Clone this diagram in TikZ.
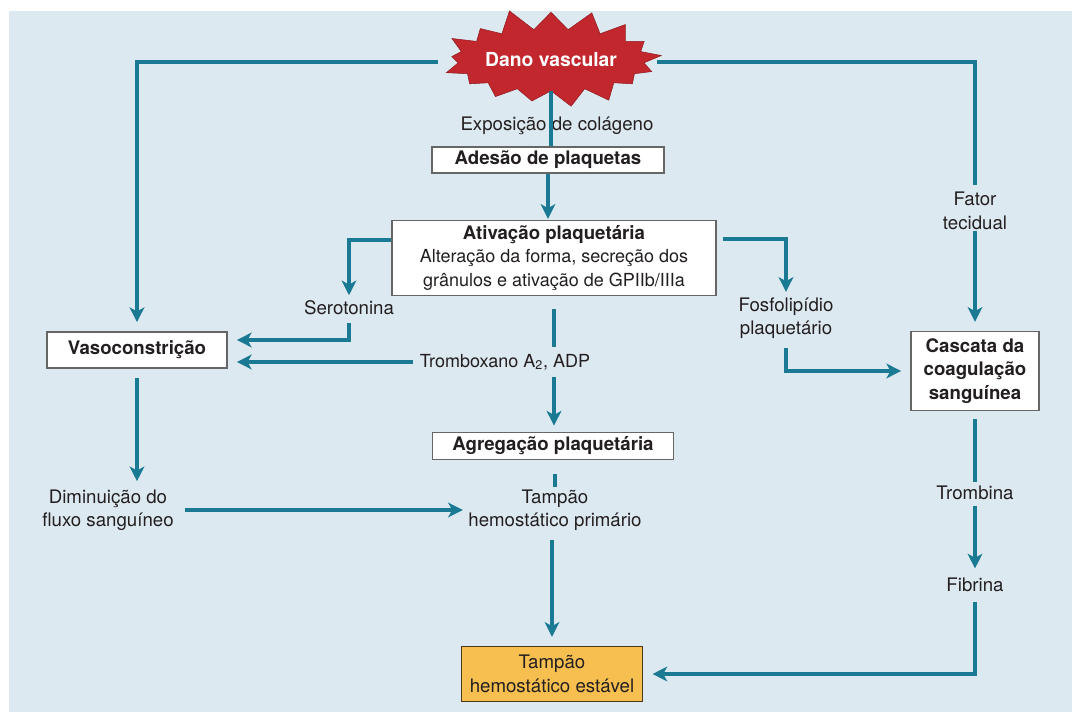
\documentclass[tikz,border=0pt]{standalone}
\usepackage{fontspec}
\setmainfont{TeX Gyre Heros}
\usetikzlibrary{arrows.meta,shapes.symbols}

\definecolor{fundo}{HTML}{DDE9F0}
\definecolor{seta}{HTML}{1B7A93}
\definecolor{vermelho}{HTML}{C1272D}
\definecolor{laranja}{HTML}{F6BF4F}
\definecolor{texto}{HTML}{231F20}

\newcommand{\fonte}{\fontsize{14}{17.5}\selectfont}
\newcommand{\fontemenor}{\fontsize{13.5}{16.5}\selectfont}

\tikzset{
  caixa/.style={draw=black!60, line width=0.8pt, fill=white, text=texto,
    align=center, inner xsep=5pt, inner ysep=3pt, font=\fonte},
  negrito/.style={caixa, font=\fonte\bfseries},
  rotulo/.style={align=center, text=texto, inner sep=1pt, font=\fonte},
  linha/.style={draw=seta, line width=2.3pt},
  fluxo/.style={linha, -{Stealth[length=11pt,width=11pt,inset=3pt]}},
}

\begin{document}
\begin{tikzpicture}[x=0.75pt, y=-0.75pt]
  % 画布:左上留白
  \useasboundingbox (0,0) rectangle (1072,712);
  \fill[fundo] (9,11) rectangle (1072,712);

  % 起点
  \node[starburst, starburst points=17, starburst point height=17pt,
    random starburst=11, fill=vermelho, draw=vermelho!75!black,
    text=white, font=\fontsize{14.5}{16}\selectfont\bfseries,
    inner xsep=0pt, inner ysep=11pt] (dano) at (551,60) {Dano vascular};
  \coordinate (esq) at (438,62);
  \coordinate (dir) at (657,62);

  % 方框
  \node[negrito, minimum width=174pt, minimum height=19.5pt] (adesao) at (548,160) {Adesão de plaquetas};
  \node[caixa, inner xsep=3pt, minimum width=243pt, minimum height=56pt] (ativ) at (554,258)
    {\textbf{Ativação plaquetária}\\\fontemenor Alteração da forma, secreção dos\\\fontemenor grânulos e ativação de GPIIb/IIIa};
  \node[negrito, minimum width=135pt, minimum height=27pt] (vaso) at (137,350) {Vasoconstrição};
  \node[negrito, minimum width=181pt, minimum height=17pt] (agreg) at (553,446) {Agregação plaquetária};
  \node[negrito, minimum width=96pt, minimum height=59pt] (cascata) at (975,371)
    {Cascata da\\coagulação\\sanguínea};
  \node[caixa, fill=laranja, draw=black!70!laranja, minimum width=136pt, minimum height=41pt] (estavel) at (552,674)
    {Tampão\\hemostático estável};

  % 文字标签
  \node[rotulo] (expo) at (557,126) {Exposição de colágeno};
  \node[rotulo] (sero) at (349,308) {Serotonina};
  \node[rotulo, font=\fontemenor] (tromb) at (505,362) {Tromboxano A\textsubscript{2}, ADP};
  \node[rotulo] (fosfo) at (786,318) {Fosfolipídio\\plaquetário};
  \node[rotulo] (fator) at (975,211) {Fator\\tecidual};
  \node[rotulo] (dimin) at (108,510) {Diminuição do\\fluxo sanguíneo};
  \node[rotulo] (prim) at (555,510) {Tampão\\hemostático primário};
  \node[rotulo] (trombina) at (975,493) {Trombina};
  \node[rotulo] (fibrina) at (975,585) {Fibrina};

  % 连线
  \draw[fluxo, shorten >=7pt] (esq) -| (vaso.north);
  \draw[linha, shorten >=4pt] (dir) -| (fator.north);
  \draw[fluxo, shorten >=7pt] (fator.south) -- (cascata.north);
  \draw[linha] (dano.south) -- (adesao.north -| dano.south);
  \draw[fluxo, shorten >=1pt] (adesao.south) -- (ativ.north -| adesao.south);
  \draw[fluxo, shorten >=3pt] (ativ.west |- 0,240) -| (sero.north);
  \draw[fluxo, shorten <=5pt, shorten >=7pt] (sero.south) |- (vaso.east |- 0,340);
  \draw[fluxo, shorten <=4pt, shorten >=7pt] (tromb.west) -- (vaso.east |- tromb.west);
  \draw[linha, shorten <=10pt, shorten >=4pt] (ativ.south) -- (tromb.north -| ativ.south);
  \draw[fluxo, shorten <=4pt, shorten >=5pt] (tromb.south -| ativ.south) -- (agreg.north -| ativ.south);
  \draw[fluxo, shorten <=4.5pt, shorten >=3pt] (ativ.east |- 0,239) -| (fosfo.north);
  \draw[fluxo, shorten <=6pt, shorten >=7pt] (fosfo.south) |- (cascata.west);
  \draw[fluxo, shorten <=7pt, shorten >=5pt] (vaso.south) -- (vaso.south |- dimin.north);
  \draw[fluxo, shorten <=7pt, shorten >=3pt] (dimin.east) -- (prim.west);
  \draw[linha, shorten <=11pt, shorten >=1pt] (agreg.south -| prim.north) -- (prim.north);
  \draw[fluxo, shorten <=6pt, shorten >=7pt] (prim.south -| estavel.north) -- (estavel.north);
  \draw[linha, shorten <=6pt, shorten >=2pt] (cascata.south) -- (trombina.north);
  \draw[fluxo, shorten <=3pt, shorten >=6pt] (trombina.south) -- (fibrina.north);
  \draw[fluxo, shorten <=6pt, shorten >=7pt] (fibrina.south) |- (estavel.east);
\end{tikzpicture}
\end{document}
